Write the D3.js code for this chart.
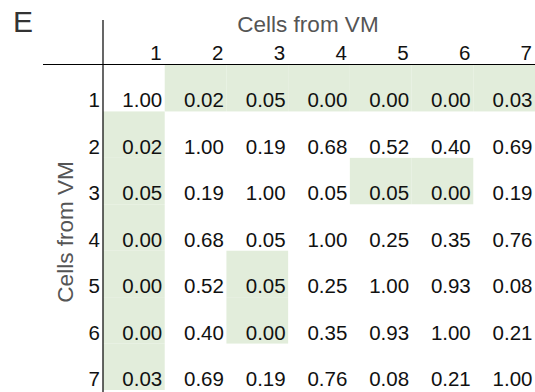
<!DOCTYPE html>
<html>
<head>
<meta charset="utf-8">
<script src="https://cdn.jsdelivr.net/npm/d3@7"></script>
<style>
  html, body { margin: 0; padding: 0; background: #fff; }
  svg { display: block; }
  text { font-family: "Liberation Sans", Arial, Helvetica, sans-serif; }
</style>
</head>
<body>
<div id="chart"></div>
<script>
// ---- data ----
const panelLabel = "E";
const colTitle = "Cells from VM";
const rowTitle = "Cells from VM";
const cells = ["1", "2", "3", "4", "5", "6", "7"];
const row1 = [1.00, 0.02, 0.05, 0.00, 0.00, 0.00, 0.03];
const row2 = [0.02, 1.00, 0.19, 0.68, 0.52, 0.40, 0.69];
const row3 = [0.05, 0.19, 1.00, 0.05, 0.05, 0.00, 0.19];
const row4 = [0.00, 0.68, 0.05, 1.00, 0.25, 0.35, 0.76];
const row5 = [0.00, 0.52, 0.05, 0.25, 1.00, 0.93, 0.08];
const row6 = [0.00, 0.40, 0.00, 0.35, 0.93, 1.00, 0.21];
const row7 = [0.03, 0.69, 0.19, 0.76, 0.08, 0.21, 1.00];
const matrix = [row1, row2, row3, row4, row5, row6, row7];
// highlighted cells as [row, column]
const highlighted = [
  ["1","2"],["1","3"],["1","4"],["1","5"],["1","6"],["1","7"],
  ["2","1"],["3","1"],["4","1"],["5","1"],["6","1"],["7","1"],
  ["3","5"],["3","6"],["5","3"],["6","3"]
];

// ---- layout ----
const W = 535, H = 392;
const svg = d3.select("#chart").append("svg").attr("width", W).attr("height", H);

const x = d3.scaleBand().domain(cells).range([103, 535]);
const y = d3.scaleBand().domain(cells).range([65, 390]);

const table = [];
matrix.forEach((r, i) => r.forEach((v, j) => table.push({ row: cells[i], col: cells[j], value: v })));

// highlight cells
svg.append("g").selectAll("rect")
  .data(highlighted)
  .join("rect")
  .attr("x", d => x(d[1]))
  .attr("y", d => y(d[0]))
  .attr("width", x.bandwidth())
  .attr("height", y.bandwidth())
  .attr("fill", "#e2eddb");

// lines
svg.append("line")
  .attr("x1", x.range()[0]).attr("x2", x.range()[0])
  .attr("y1", 20).attr("y2", H)
  .attr("stroke", "#000").attr("stroke-width", 1.2);
svg.append("line")
  .attr("x1", 43).attr("x2", W)
  .attr("y1", y.range()[0] - 0.5).attr("y2", y.range()[0] - 0.5)
  .attr("stroke", "#000").attr("stroke-width", 1.2);

// values
svg.append("g").selectAll("text")
  .data(table)
  .join("text")
  .attr("x", d => x(d.col) + x.bandwidth() - 2.5)
  .attr("y", d => y(d.row) + y.bandwidth() - 4)
  .attr("text-anchor", "end")
  .attr("font-size", 20.5)
  .attr("fill", "#111")
  .text(d => d3.format(".2f")(d.value));

// column headers
svg.append("g").selectAll("text")
  .data(cells)
  .join("text")
  .attr("x", d => x(d) + x.bandwidth() - 3)
  .attr("y", y.range()[0] - 5)
  .attr("text-anchor", "end")
  .attr("font-size", 20.5)
  .attr("fill", "#111")
  .text(d => d);

// row headers
svg.append("g").selectAll("text")
  .data(cells)
  .join("text")
  .attr("x", x.range()[0] - 3)
  .attr("y", d => y(d) + y.bandwidth() - 4)
  .attr("text-anchor", "end")
  .attr("font-size", 20.5)
  .attr("fill", "#111")
  .text(d => d);

// titles
svg.append("text")
  .attr("x", 308)
  .attr("y", 32)
  .attr("text-anchor", "middle")
  .attr("font-size", 22.5)
  .attr("fill", "#555")
  .text(colTitle);

svg.append("text")
  .attr("transform", "translate(73,232) rotate(-90)")
  .attr("text-anchor", "middle")
  .attr("font-size", 22.5)
  .attr("fill", "#555")
  .text(rowTitle);

svg.append("text")
  .attr("x", 13)
  .attr("y", 32)
  .attr("font-size", 30)
  .attr("fill", "#333")
  .text(panelLabel);
</script>
</body>
</html>
